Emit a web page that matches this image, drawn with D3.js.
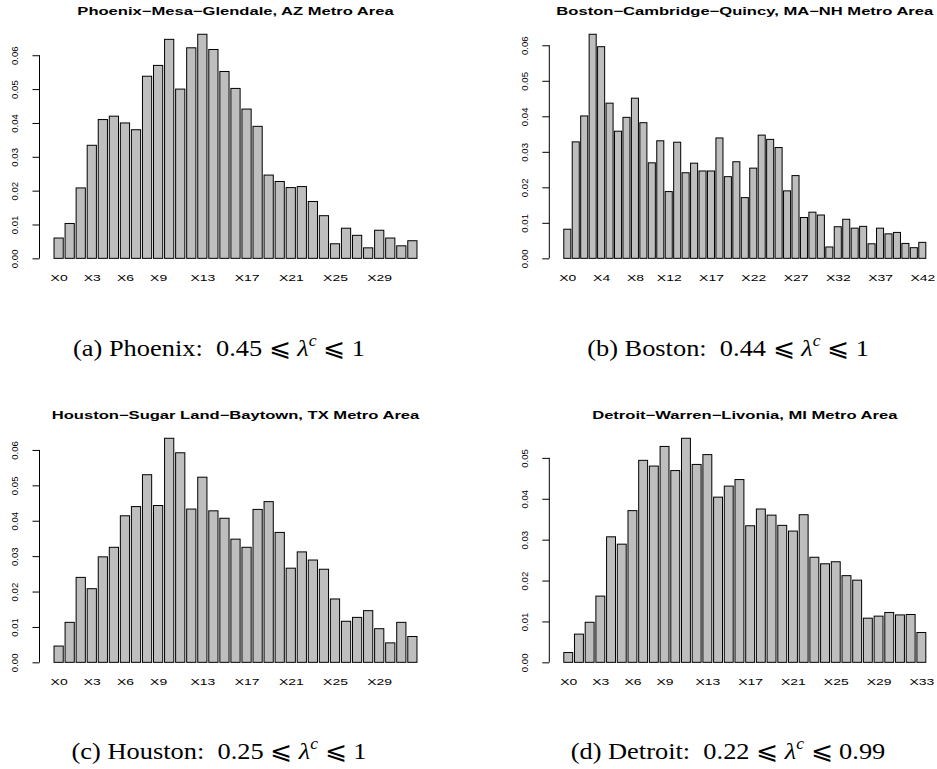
<!DOCTYPE html>
<html>
<head>
<meta charset="utf-8">
<script src="https://cdn.jsdelivr.net/npm/d3@7"></script>
<style>
  body { margin: 0; background: #fff; }
  svg { display: block; }
</style>
</head>
<body>
<svg id="chart" width="937" height="769"></svg>
<script>
// bar heights
const phoenixValues = [0.0060, 0.0103, 0.0208, 0.0334, 0.0410, 0.0420, 0.0400, 0.0380, 0.0538, 0.0570,
    0.0647, 0.0500, 0.0622, 0.0662, 0.0617, 0.0552, 0.0502, 0.0441, 0.0390, 0.0246,
    0.0227, 0.0209, 0.0212, 0.0168, 0.0126, 0.0043, 0.0089, 0.0068, 0.0031, 0.0083,
    0.0060, 0.0037, 0.0052];
const bostonValues = [0.0082, 0.0328, 0.0401, 0.0631, 0.0596, 0.0437, 0.0358, 0.0397, 0.0451, 0.0382,
    0.0269, 0.0331, 0.0188, 0.0327, 0.0241, 0.0268, 0.0246, 0.0246, 0.0339, 0.0230,
    0.0272, 0.0171, 0.0254, 0.0347, 0.0335, 0.0312, 0.0190, 0.0233, 0.0115, 0.0130,
    0.0122, 0.0032, 0.0089, 0.0110, 0.0085, 0.0090, 0.0041, 0.0085, 0.0069, 0.0073,
    0.0042, 0.0030, 0.0045];
const houstonValues = [0.0046, 0.0113, 0.0240, 0.0208, 0.0298, 0.0325, 0.0414, 0.0440, 0.0530, 0.0443,
    0.0633, 0.0592, 0.0433, 0.0523, 0.0428, 0.0407, 0.0348, 0.0325, 0.0432, 0.0454,
    0.0367, 0.0266, 0.0312, 0.0289, 0.0263, 0.0179, 0.0116, 0.0127, 0.0146, 0.0095,
    0.0055, 0.0113, 0.0073];
const detroitValues = [0.0024, 0.0069, 0.0098, 0.0162, 0.0307, 0.0289, 0.0371, 0.0494, 0.0480, 0.0528,
    0.0469, 0.0548, 0.0484, 0.0508, 0.0404, 0.0431, 0.0447, 0.0334, 0.0375, 0.0360,
    0.0335, 0.0321, 0.0361, 0.0257, 0.0241, 0.0246, 0.0212, 0.0201, 0.0108, 0.0113,
    0.0122, 0.0116, 0.0117, 0.0073];

// x labels that R managed to print
const phoenixTicks = ["X0", "X3", "X6", "X9", "X13", "X17", "X21", "X25", "X29"];
const bostonTicks = ["X0", "X4", "X8", "X12", "X17", "X22", "X27", "X32", "X37", "X42"];
const houstonTicks = ["X0", "X3", "X6", "X9", "X13", "X17", "X21", "X25", "X29"];
const detroitTicks = ["X0", "X3", "X6", "X9", "X13", "X17", "X21", "X25", "X29", "X33"];

const titles = [
    "Phoenix\u2212Mesa\u2212Glendale, AZ Metro Area",
    "Boston\u2212Cambridge\u2212Quincy, MA\u2212NH Metro Area",
    "Houston\u2212Sugar Land\u2212Baytown, TX Metro Area",
    "Detroit\u2212Warren\u2212Livonia, MI Metro Area"
];
const captionNames = ["(a) Phoenix:", "(b) Boston:", "(c) Houston:", "(d) Detroit:"];
const captionLow = ["0.45", "0.44", "0.25", "0.22"];
const captionHigh = ["1", "1", "1", "0.99"];

const svg = d3.select("#chart");
const rFont = "'Liberation Sans', Arial, Helvetica, sans-serif";
const stretch = 1.55; // R text comes out wide in the reference

const cols = [{left: 39.5, right: 431.5, capX: 219}, {left: 549.3, right: 940.3, capX: 728}];
const rows = [{top: 25.3, bottom: 267.3, capY: 356}, {top: 429.3, bottom: 671.3, capY: 759}];

const panels = [
    {values: phoenixValues, ticks: phoenixTicks, col: cols[0], row: rows[0]},
    {values: bostonValues, ticks: bostonTicks, col: cols[1], row: rows[0]},
    {values: houstonValues, ticks: houstonTicks, col: cols[0], row: rows[1]},
    {values: detroitValues, ticks: detroitTicks, col: cols[1], row: rows[1]}
];

panels.forEach((p, k) => drawPanel(p, k));

function drawPanel(p, k) {
    const n = p.values.length;
    const cats = p.values.map((_, i) => "X" + i);
    const g = svg.append("g");

    // same extents as R barplot: width 1, space 0.2, 4% padding
    const lo = 0.2, hi = 1.2 * n, padX = 0.04 * (hi - lo);
    const x = d3.scaleLinear()
        .domain([lo - padX, hi + padX])
        .range([p.col.left, p.col.right]);

    const maxV = d3.max(p.values);
    const y = d3.scaleLinear()
        .domain([-0.04 * maxV, 1.04 * maxV])
        .range([p.row.bottom, p.row.top]);

    g.selectAll("rect")
        .data(p.values)
        .enter()
        .append("rect")
        .attr("x", (d, i) => x(0.2 + 1.2 * i))
        .attr("y", d => y(d))
        .attr("width", x(1) - x(0))
        .attr("height", d => y(0) - y(d))
        .attr("fill", "#bebebe")
        .attr("stroke", "#000")
        .attr("stroke-width", 1);

    // y axis
    const yTicks = y.ticks(8).filter(t => t >= 0);
    const yAxis = d3.axisLeft(y)
        .tickValues(yTicks)
        .tickFormat(d3.format(".2f"))
        .tickSize(7);
    const ya = g.append("g")
        .attr("transform", `translate(${p.col.left}, 0)`)
        .call(yAxis);
    ya.select(".domain").remove();
    ya.append("line")
        .attr("y1", y(0))
        .attr("y2", y(yTicks[yTicks.length - 1]))
        .attr("stroke", "#000");
    ya.selectAll(".tick line").attr("stroke", "#000");
    ya.selectAll(".tick text")
        .attr("x", 0)
        .attr("dy", "0.35em")
        .attr("transform", "translate(-25,0) rotate(-90)")
        .style("text-anchor", "middle")
        .style("font-family", rFont)
        .style("font-size", "9.6px")
        .attr("fill", "#000");

    // x labels, no line
    const xAxis = d3.axisBottom(x)
        .tickValues(p.ticks.map(t => 0.7 + 1.2 * cats.indexOf(t)))
        .tickFormat(v => cats[Math.round((v - 0.7) / 1.2)])
        .tickSize(0);
    const xa = g.append("g")
        .attr("transform", `translate(0, ${p.row.bottom})`)
        .call(xAxis);
    xa.select(".domain").remove();
    xa.selectAll(".tick text")
        .attr("y", 11)
        .attr("dy", "0.35em")
        .attr("transform", `scale(${stretch},1)`)
        .style("font-family", rFont)
        .style("font-size", "9px")
        .attr("fill", "#000");

    // title
    g.append("text")
        .attr("transform", `translate(${(p.col.left + p.col.right) / 2}, ${p.row.top - 10.3}) scale(${stretch},1)`)
        .style("text-anchor", "middle")
        .style("font-family", rFont)
        .style("font-weight", "bold")
        .style("font-size", "10.7px")
        .text(titles[k]);

    // LaTeX-style subcaption
    const cap = svg.append("text")
        .attr("transform", `translate(${p.col.capX}, ${p.row.capY}) scale(1.1,1)`)
        .style("text-anchor", "middle")
        .style("font-family", "'Liberation Serif', 'DejaVu Serif', serif")
        .style("font-size", "24px");
    cap.append("tspan").text(captionNames[k] + "\u00a0 " + captionLow[k] + " \u2A7D ");
    cap.append("tspan").style("font-style", "italic").text("\u03bb");
    cap.append("tspan").style("font-style", "italic").style("font-size", "16px")
        .attr("dy", -10).text("c");
    cap.append("tspan").attr("dy", 10).text(" \u2A7D " + captionHigh[k]);
}
</script>
</body>
</html>
